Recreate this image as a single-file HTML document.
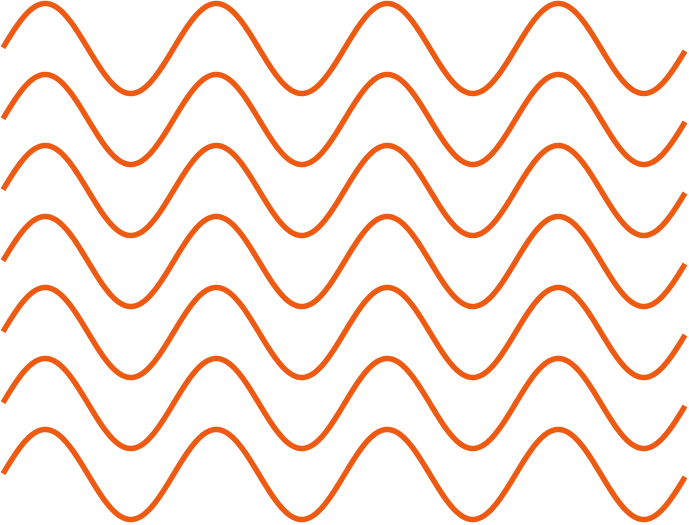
<!DOCTYPE html>
<html><head><meta charset="utf-8"><style>html,body{margin:0;padding:0;background:#fff;overflow:hidden}svg{display:block}</style></head>
<body>
<svg id="chart" width="689" height="525" viewBox="0 0 689 525"></svg>
<script>
const rowCenters = [48.5, 119.5, 190.5, 261.5, 332.5, 403.5, 474.5];
const amplitudes = [45, 45, 45, 45, 45, 45, 45];
const period = 171;
const phaseStart = 2.5;
const svg = document.getElementById('chart');
const NS = 'http://www.w3.org/2000/svg';
rowCenters.forEach((c, i) => {
  let d = '';
  for (let x = 3; x <= 685; x += 1) {
    const y = c - amplitudes[i] * Math.sin(2 * Math.PI * (x - phaseStart) / period);
    d += (x === 3 ? 'M' : 'L') + x + ' ' + y.toFixed(2) + ' ';
  }
  const p = document.createElementNS(NS, 'path');
  p.setAttribute('d', d);
  p.setAttribute('fill', 'none');
  p.setAttribute('stroke', '#EE5A12');
  p.setAttribute('stroke-width', '5.5');
  
  
  svg.appendChild(p);
});
</script>
</body></html>
